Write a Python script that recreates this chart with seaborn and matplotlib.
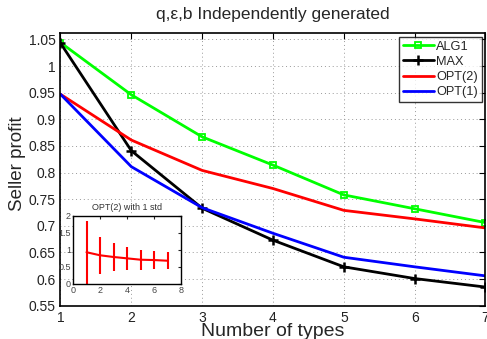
import numpy as np
import pandas as pd
import matplotlib
matplotlib.use("Agg")
import matplotlib.pyplot as plt
import seaborn as sns
from matplotlib.ticker import FormatStrFormatter

types = [1, 2, 3, 4, 5, 6, 7]
alg1 = [1.044, 0.946, 0.867, 0.814, 0.758, 0.732, 0.706]
max_ = [1.043, 0.841, 0.733, 0.673, 0.623, 0.601, 0.585]
opt2 = [0.947, 0.861, 0.804, 0.770, 0.729, 0.713, 0.696]
opt1 = [0.947, 0.811, 0.734, 0.686, 0.641, 0.623, 0.606]

inset_mean = [0.92, 0.83, 0.78, 0.74, 0.70, 0.69, 0.67]
inset_std = [0.93, 0.54, 0.40, 0.345, 0.29, 0.267, 0.245]

sns.set_style("white")
plt.rcParams['font.family'] = ['Liberation Sans', 'DejaVu Sans']

fig = plt.figure(figsize=(4.87, 3.39), dpi=100)
ax = fig.add_axes([0.1242, 0.0982, 0.8727, 0.8045])

sns.lineplot(x=types, y=alg1, ax=ax, color=(0, 1, 0), lw=2, marker='s', ms=5,
             mfc='none', mec=(0, 1, 0), mew=1.3, label='ALG1')
sns.lineplot(x=types, y=max_, ax=ax, color='black', lw=2, marker='+', ms=6.5,
             mec='black', mew=1.8, label='MAX')
sns.lineplot(x=types, y=opt2, ax=ax, color='red', lw=2, label='OPT(2)')
sns.lineplot(x=types, y=opt1, ax=ax, color='blue', lw=2, label='OPT(1)')

ax.set_xlim(1, 7)
ax.set_ylim(0.55, 1.062)
ax.set_xticks(types)
ax.set_yticks(np.arange(0.55, 1.051, 0.05))
ax.yaxis.set_major_formatter(FormatStrFormatter('%g'))
ax.tick_params(direction='in', top=True, right=True, labelsize=10, length=4,
               colors='black', labelcolor='#222222')
ax.grid(True, color='#999999', lw=0.7, dashes=(1, 3))
for s in ax.spines.values():
    s.set_color('black')
    s.set_linewidth(1.2)

ax.set_title('q,ε,b Independently generated', fontsize=12.5, pad=10)
ax.set_xlabel('Number of types', fontsize=14)
ax.set_ylabel('Seller profit', fontsize=13.5)
ax.xaxis.set_label_coords(0.5, -0.11)
ax.xaxis.label.set_va('baseline')
ax.yaxis.set_label_coords(-0.101, 0.52)
ax.yaxis.label.set_va('center')

leg = ax.legend(loc='upper right', fontsize=9.2, frameon=True, fancybox=False,
                borderaxespad=0.3, handlelength=2.4, handletextpad=0.2,
                labelspacing=0.25, borderpad=0.3)
leg.get_frame().set_edgecolor('black')
leg.get_frame().set_linewidth(1.0)

# inset
axi = fig.add_axes([0.1499, 0.1637, 0.2218, 0.2006])
axi.errorbar(types, inset_mean, yerr=inset_std, color='red', lw=1.5,
             elinewidth=1.5, capsize=0)
axi.set_xlim(0, 8)
axi.set_ylim(0, 2)
axi.set_xticks([0, 2, 4, 6, 8])
axi.set_yticks([0, 0.5, 1, 1.5, 2])
axi.yaxis.set_major_formatter(FormatStrFormatter('%g'))
axi.tick_params(direction='in', labelsize=6.5, length=2, pad=1.5,
                labelcolor='#444444', top=True, right=True)
axi.set_title('OPT(2) with 1 std', fontsize=6.5, pad=4, color='#333333')
for s in axi.spines.values():
    s.set_color('black')
    s.set_linewidth(1.0)

fig.savefig('out.png', dpi=100)
